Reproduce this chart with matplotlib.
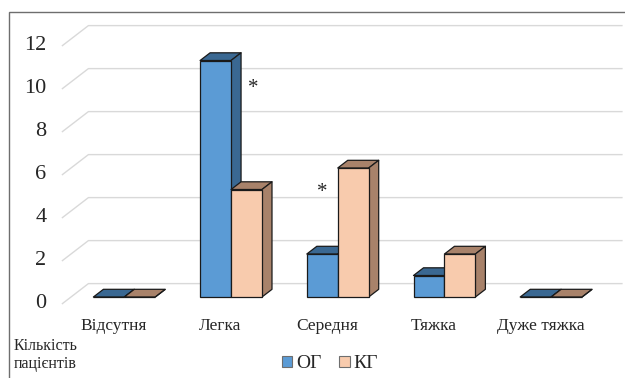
import matplotlib
matplotlib.use("Agg")
import matplotlib.pyplot as plt
from matplotlib.patches import Polygon, Patch, Rectangle

plt.rcParams['font.family'] = ['Liberation Serif', 'DejaVu Serif']

categories = ["Відсутня", "Легка", "Середня", "Тяжка", "Дуже тяжка"]
og_values = [0, 11, 2, 1, 0]
kg_values = [0, 5, 6, 2, 0]
series_names = ["ОГ", "КГ"]
y_ticks = [0, 2, 4, 6, 8, 10, 12]
y_label = "Кількість\nпацієнтів"
# significance marks: (category index, series index, text)
marks = [(1, 0, "*"), (2, 1, "*")]

front_colors = ["#5B9BD5", "#F8CBAD"]
shade_colors = ["#3A6892", "#A8826A"]
edge = "#1a1a1a"
text_color = "#262626"

W, H, DPI = 625, 378, 100
fig = plt.figure(figsize=(W / DPI, H / DPI), dpi=DPI)

# axes placed on the front plane of the bars
left_px, zero_px, slot_px, unit_px = 71.0, 297.0, 106.7, 21.5
ax = fig.add_axes([left_px / W, (H - zero_px) / H,
                   slot_px * len(categories) / W, unit_px * 12 / H])
ax.set_xlim(-0.5, len(categories) - 0.5)
ax.set_ylim(0, 12)
ax.axis("off")

# oblique depth of the plot box in display pixels (x right, y up)
DX, DY = 26.0, 20.0
F = 0.33            # depth fraction of bar front faces
B = F + 10.0 / DX   # depth fraction of bar back faces


def proj(x, y, d):
    px, py = ax.transData.transform((x, y))
    px += (d - F) * DX
    py += (d - F) * DY
    return tuple(ax.transData.inverted().transform((px, py)))


# outer frame (top and left edges visible)
fig.add_artist(Rectangle((9 / W, -0.1), 1.2, 1.1 - 12 / H, transform=fig.transFigure,
                         fill=False, edgecolor="#6e6e6e", lw=1.0))

# gridlines: side wall diagonals and back wall horizontals
n = len(categories)
for v in y_ticks:
    pts = [proj(-0.5, v, 0), proj(-0.5, v, 1), proj(n - 0.5, v, 1)]
    ax.plot([p[0] for p in pts], [p[1] for p in pts], color="#d9d9d9",
            lw=1.0, clip_on=False, zorder=1)
    fx, fy = proj(-0.5, v, 0)
    ax.annotate(str(v), xy=(fx, fy), xytext=(-11.5, 0), textcoords="offset points",
                ha="right", va="center", fontsize=16, color=text_color,
                annotation_clip=False)

bw = 0.29
for s, vals in enumerate([og_values, kg_values]):
    xs = [i - bw if s == 0 else i for i in range(n)]
    ax.bar(xs, vals, width=bw, align="edge", color=front_colors[s],
           edgecolor=edge, linewidth=0.9, zorder=3 + s * 2, clip_on=False)
    for x0, h in zip(xs, vals):
        x1 = x0 + bw
        top = [proj(x0, h, F), proj(x1, h, F), proj(x1, h, B), proj(x0, h, B)]
        side = [proj(x1, 0, F), proj(x1, h, F), proj(x1, h, B), proj(x1, 0, B)]
        for poly in (top, side):
            ax.add_patch(Polygon(poly, closed=True, facecolor=shade_colors[s],
                                 edgecolor=edge, linewidth=0.9, zorder=2 + s * 2,
                                 clip_on=False, joinstyle="round"))

# category labels under the front edge of the floor
for i, name in enumerate(categories):
    fx, fy = proj(i, 0, 0)
    ax.annotate(name, xy=(fx, fy), xytext=(-1.5, -16), textcoords="offset points",
                ha="center", va="center", fontsize=12.5, color=text_color,
                annotation_clip=False)

# significance asterisks
for ci, si, txt in marks:
    if si == 0:
        h = og_values[ci]
        x, y = proj(ci, h, B)
        ax.annotate(txt, xy=(x, y), xytext=(9, -26), textcoords="offset points",
                    ha="center", va="center", fontsize=15, color=text_color,
                    annotation_clip=False, zorder=10)
    else:
        h = kg_values[ci]
        x, y = proj(ci, h, F)
        ax.annotate(txt, xy=(x, y), xytext=(-11, -17.5), textcoords="offset points",
                    ha="center", va="center", fontsize=15, color=text_color,
                    annotation_clip=False, zorder=10)

fig.text(14 / W, 1 - 355 / H, y_label, ha="left", va="center", fontsize=11.5,
         color=text_color, linespacing=1.1)

handles = [Patch(facecolor=front_colors[k], edgecolor="#6e6e6e", linewidth=0.8)
           for k in range(2)]
fig.legend(handles, series_names, loc="center", bbox_to_anchor=(330 / W, 1 - 364 / H),
           ncol=2, frameon=False, fontsize=14, handlelength=0.55, handleheight=0.55,
           handletextpad=0.2, columnspacing=0.9, borderpad=0.1,
           labelcolor=text_color)

fig.savefig("out.png", dpi=DPI)
